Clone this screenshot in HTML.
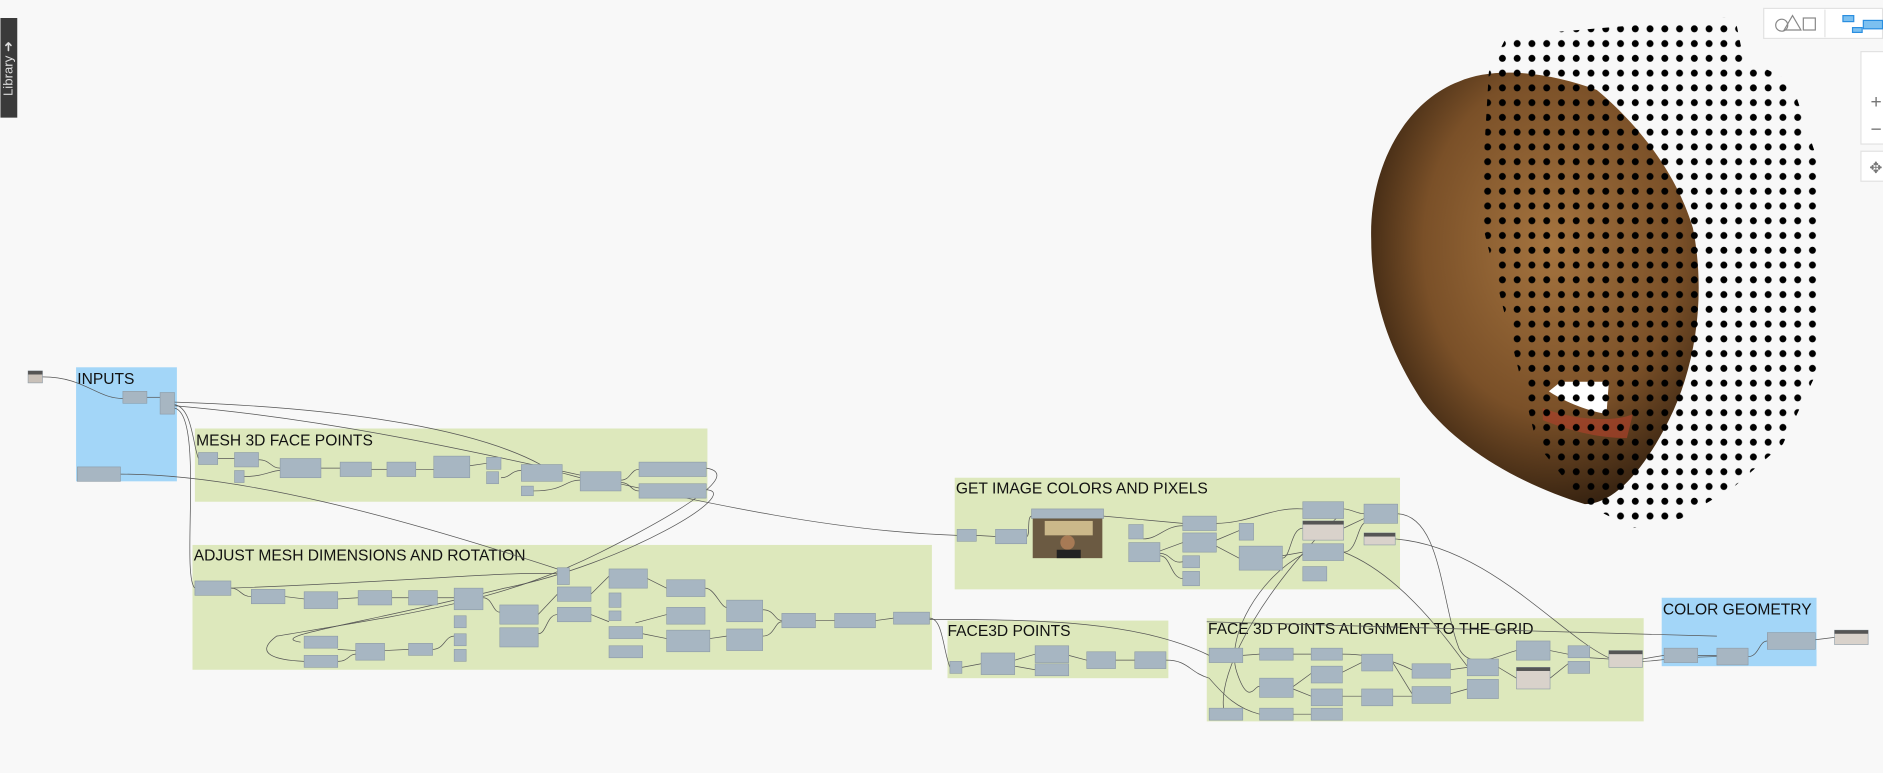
<!DOCTYPE html>
<html><head><meta charset="utf-8"><style>
html,body{margin:0;padding:0;background:#f8f8f8;width:1883px;height:773px;overflow:hidden}
svg{display:block}
.g{fill:#dde8bc}.b{fill:#a3d6f8}
.lbl{font-family:"Liberation Sans",sans-serif;font-size:13px;fill:#111}
.n{fill:#a7b6c2;stroke:#8c9aa5;stroke-width:.5}
.w{fill:none;stroke:#555;stroke-width:.6}
</style></head><body>
<svg width="1883" height="773" viewBox="0 0 1568 644" xmlns="http://www.w3.org/2000/svg">
<defs>
<pattern id="dots" x="1233" y="18" width="12.3" height="12.3" patternUnits="userSpaceOnUse"><circle cx="6" cy="6" r="2.9" fill="#000"/></pattern>
<radialGradient id="skin" cx="0.55" cy="0.4" r="0.65"><stop offset="0" stop-color="#a5743f"/><stop offset="0.6" stop-color="#7a5028"/><stop offset="1" stop-color="#2a1a0c"/></radialGradient>
</defs>
<rect width="1568" height="644" fill="#f8f8f8"/>
<!-- library tab -->
<rect x="0" y="15" width="14" height="83" fill="#3a3a3a"/>
<text transform="translate(10,80) rotate(-90)" font-family="Liberation Sans,sans-serif" font-size="11" fill="#ddd">Library ➜</text>
<!-- face -->
<path d="M1142,200 C1140,140 1170,85 1215,68 C1245,55 1290,60 1330,75 C1360,100 1395,140 1410,190 C1420,240 1415,300 1390,350 C1370,390 1345,420 1320,420 C1270,405 1215,375 1185,335 C1155,290 1142,245 1142,200Z" fill="url(#skin)"/>
<path d="M1300,318 L1340,318 L1338,345 C1320,342 1300,333 1290,326Z" fill="#fff"/>
<path d="M1285,340 C1310,350 1345,352 1360,345 L1355,365 C1330,365 1305,358 1285,350Z" fill="#a8402a" opacity=".7"/>
<path d="M1255,30 L1445,14 L1452,48 L1492,68 L1516,140 L1518,300 L1485,370 L1445,405 L1400,432 L1360,440 L1320,420 L1280,370 L1233,180 L1240,60Z" fill="url(#dots)"/>
<!-- toolbar -->
<rect x="1469" y="7" width="99" height="25" fill="#fff" stroke="#e2e2e2"/>
<line x1="1520" y1="8" x2="1520" y2="31" stroke="#e2e2e2"/>
<circle cx="1484" cy="21" r="5" fill="none" stroke="#888"/><path d="M1486,25 L1493,13 L1500,25Z" fill="none" stroke="#888"/><rect x="1502" y="15" width="10" height="10" fill="none" stroke="#888"/>
<rect x="1535" y="13" width="9" height="5" fill="#7cc0f0" stroke="#2a8ee0"/><rect x="1543" y="23" width="8" height="4" fill="#7cc0f0" stroke="#2a8ee0"/><rect x="1552" y="17" width="16" height="7" fill="#7cc0f0" stroke="#2a8ee0"/>
<rect x="1550" y="43" width="20" height="77" fill="#fff" stroke="#e2e2e2"/>
<text x="1558" y="90" font-family="Liberation Sans,sans-serif" font-size="16" fill="#777">+</text>
<text x="1558" y="113" font-family="Liberation Sans,sans-serif" font-size="16" fill="#777">−</text>
<rect x="1550" y="126" width="20" height="25" fill="#fff" stroke="#e2e2e2"/>
<text x="1557" y="144" font-family="Liberation Sans,sans-serif" font-size="13" fill="#777">✥</text>
<!-- groups -->
<rect class="b" x="63" y="306" width="84" height="95"/><text class="lbl" x="64" y="320">INPUTS</text>
<rect class="g" x="162" y="357" width="427" height="61"/><text class="lbl" x="163" y="371">MESH 3D FACE POINTS</text>
<rect class="g" x="160" y="454" width="616" height="104"/><text class="lbl" x="161" y="467">ADJUST MESH DIMENSIONS AND ROTATION</text>
<rect class="g" x="795" y="398" width="371" height="93"/><text class="lbl" x="796" y="411">GET IMAGE COLORS AND PIXELS</text>
<rect class="g" x="789" y="517" width="184" height="48"/><text class="lbl" x="789" y="530">FACE3D POINTS</text>
<rect class="g" x="1005" y="515" width="364" height="86"/><text class="lbl" x="1006" y="528">FACE 3D POINTS ALIGNMENT TO THE GRID</text>
<rect class="b" x="1384" y="498" width="129" height="57"/><text class="lbl" x="1385" y="512">COLOR GEOMETRY</text>
<!-- wires -->
<g class="w">
<path d="M35,314 C70,314 80,332 102,332"/><path d="M122,331 L133,331"/>
<path d="M145,335 C300,340 400,360 450,387"/><path d="M145,337 C160,340 160,370 165,382"/>
<path d="M145,340 C170,345 150,480 162,490"/>
<path d="M145,338 C400,360 600,440 797,446"/>
<path d="M100,395 C200,395 330,430 470,476"/>
<path d="M588,390 C620,395 560,430 500,460 C420,500 350,510 230,530 C210,545 230,550 253,551"/>
<path d="M588,408 C620,410 520,470 420,490 C300,520 220,530 250,535"/>
<path d="M181,382 L195,382"/><path d="M215,383 C225,383 225,390 233,390"/><path d="M203,397 C220,397 225,392 233,392"/>
<path d="M267,390 L283,390"/><path d="M309,391 L322,391"/><path d="M346,391 L361,391"/><path d="M391,388 L405,386"/><path d="M417,398 C425,398 425,392 434,392"/><path d="M468,394 L483,398"/><path d="M444,409 C470,409 470,400 483,400"/><path d="M517,400 C525,400 525,391 532,391"/><path d="M517,402 C525,402 525,409 532,409"/>
<path d="M192,490 C200,490 200,497 209,497"/><path d="M237,497 L253,499"/><path d="M281,499 L298,498"/><path d="M326,498 L340,498"/><path d="M364,498 L378,498"/><path d="M402,498 C410,498 410,510 416,510"/><path d="M192,490 C350,484 420,476 464,478"/>
<path d="M281,541 L296,542"/><path d="M281,551 C290,551 290,545 296,545"/><path d="M320,542 L340,541"/><path d="M360,541 C370,541 370,530 378,530"/><path d="M448,512 L464,495"/><path d="M448,528 C455,528 455,512 464,512"/><path d="M492,495 L507,480"/><path d="M492,512 L507,518"/><path d="M539,482 L555,490"/><path d="M529,519 L555,512"/><path d="M535,528 L555,532"/><path d="M587,490 C595,490 600,506 605,506"/><path d="M591,532 L605,530"/><path d="M635,508 C645,508 645,517 651,517"/><path d="M635,530 C645,530 645,518 651,518"/><path d="M679,517 L695,517"/><path d="M729,517 L744,515"/>
<path d="M774,515 C785,515 785,540 791,556"/><path d="M774,516 C870,516 950,518 1007,546"/>
<path d="M801,556 L817,553"/><path d="M845,550 L862,545"/><path d="M845,555 L862,558"/><path d="M890,546 L905,550"/><path d="M929,550 L945,550"/><path d="M971,550 C990,550 990,560 1007,565 C1020,580 1030,590 1049,595"/>
<path d="M813,446 L829,447"/><path d="M855,447 C858,447 855,430 859,430"/><path d="M919,430 L985,436"/><path d="M952,449 C965,449 970,438 985,438"/><path d="M966,459 L985,452"/><path d="M966,461 C975,461 975,470 985,468"/><path d="M966,463 C975,463 975,482 985,482"/><path d="M1013,436 C1040,436 1060,422 1085,424"/><path d="M1013,450 L1032,442"/><path d="M1013,455 L1032,465"/><path d="M1068,463 L1085,460"/><path d="M1068,465 C1075,465 1075,440 1085,440"/><path d="M1119,424 C1125,424 1130,428 1136,428"/><path d="M1119,440 L1136,432"/><path d="M1119,460 C1130,460 1130,440 1136,436"/>
<path d="M1164,428 C1200,430 1200,500 1215,540 C1225,560 1250,545 1263,542"/><path d="M1162,449 C1240,455 1300,530 1340,548"/><path d="M1119,460 C1170,480 1210,540 1222,555"/><path d="M1085,462 C1050,480 1020,530 1030,560 C1040,590 1045,570 1049,572"/><path d="M1119,426 C1060,480 1010,560 1020,595"/>
<path d="M1035,546 L1049,545"/><path d="M1077,545 L1092,545"/><path d="M1077,572 L1092,561"/><path d="M1077,574 L1092,580"/><path d="M1077,595 L1092,595"/><path d="M1118,560 L1134,552"/><path d="M1118,580 L1134,580"/><path d="M1118,545 C1150,545 1170,555 1176,558"/><path d="M1160,552 L1176,578"/><path d="M1160,580 L1176,580"/><path d="M1208,558 L1222,556"/><path d="M1208,578 L1222,574"/><path d="M1248,556 L1263,565"/><path d="M1291,542 L1306,545"/><path d="M1291,565 L1306,553"/><path d="M1324,548 L1340,549"/>
<path d="M1368,549 L1386,546"/><path d="M1368,551 C1380,551 1385,548 1430,547"/><path d="M1414,546 L1430,546"/><path d="M1456,547 C1465,547 1465,534 1472,534"/><path d="M1512,533 L1528,531"/><path d="M1005,518 L1430,530"/>
</g>
<!-- nodes -->
<g class="n">
<rect x="23" y="309" width="12" height="10" fill="#c9c1b9"/>
<rect x="102" y="326" width="20" height="10"/><rect x="133" y="327" width="12" height="18"/><rect x="64" y="389" width="36" height="12"/>
<rect x="165" y="377" width="16" height="10"/><rect x="195" y="377" width="20" height="12"/><rect x="195" y="392" width="8" height="10"/><rect x="233" y="382" width="34" height="16"/><rect x="283" y="385" width="26" height="12"/><rect x="322" y="385" width="24" height="12"/><rect x="361" y="380" width="30" height="18"/><rect x="405" y="381" width="12" height="10"/><rect x="405" y="393" width="10" height="10"/><rect x="434" y="387" width="34" height="14"/><rect x="434" y="405" width="10" height="8"/><rect x="483" y="393" width="34" height="16"/><rect x="532" y="385" width="56" height="12"/><rect x="532" y="403" width="56" height="12"/>
<rect x="162" y="484" width="30" height="12"/><rect x="209" y="491" width="28" height="12"/><rect x="253" y="493" width="28" height="14"/><rect x="298" y="492" width="28" height="12"/><rect x="340" y="492" width="24" height="12"/><rect x="378" y="490" width="24" height="18"/><rect x="378" y="513" width="10" height="10"/><rect x="378" y="528" width="10" height="10"/><rect x="378" y="541" width="10" height="10"/><rect x="253" y="530" width="28" height="10"/><rect x="253" y="546" width="28" height="10"/><rect x="296" y="536" width="24" height="14"/><rect x="340" y="536" width="20" height="10"/><rect x="416" y="504" width="32" height="16"/><rect x="416" y="523" width="32" height="16"/><rect x="464" y="473" width="10" height="14"/><rect x="464" y="489" width="28" height="12"/><rect x="464" y="506" width="28" height="12"/><rect x="507" y="474" width="32" height="16"/><rect x="507" y="494" width="10" height="12"/><rect x="507" y="509" width="10" height="8"/><rect x="507" y="522" width="28" height="10"/><rect x="507" y="538" width="28" height="10"/><rect x="555" y="483" width="32" height="14"/><rect x="555" y="506" width="32" height="14"/><rect x="555" y="525" width="36" height="18"/><rect x="605" y="500" width="30" height="18"/><rect x="605" y="524" width="30" height="18"/><rect x="651" y="511" width="28" height="12"/><rect x="695" y="511" width="34" height="12"/><rect x="744" y="510" width="30" height="10"/>
<rect x="797" y="441" width="16" height="10"/><rect x="829" y="441" width="26" height="12"/><rect x="859" y="424" width="60" height="8"/><rect x="940" y="437" width="12" height="12"/><rect x="940" y="452" width="26" height="16"/><rect x="985" y="430" width="28" height="12"/><rect x="985" y="444" width="28" height="16"/><rect x="985" y="463" width="14" height="10"/><rect x="985" y="476" width="14" height="12"/><rect x="1032" y="436" width="12" height="14"/><rect x="1032" y="455" width="36" height="20"/><rect x="1085" y="418" width="34" height="14"/><rect x="1085" y="434" width="34" height="16" fill="#d9d2cb"/><rect x="1085" y="453" width="34" height="14"/><rect x="1085" y="472" width="20" height="12"/><rect x="1136" y="420" width="28" height="16"/><rect x="1136" y="444" width="26" height="10" fill="#d9d2cb"/>
<rect x="791" y="551" width="10" height="10"/><rect x="817" y="544" width="28" height="18"/><rect x="862" y="538" width="28" height="14"/><rect x="862" y="553" width="28" height="10"/><rect x="905" y="543" width="24" height="14"/><rect x="945" y="543" width="26" height="14"/>
<rect x="1007" y="540" width="28" height="12"/><rect x="1049" y="540" width="28" height="10"/><rect x="1049" y="565" width="28" height="16"/><rect x="1007" y="590" width="28" height="10"/><rect x="1049" y="590" width="28" height="10"/><rect x="1092" y="540" width="26" height="10"/><rect x="1092" y="555" width="26" height="14"/><rect x="1092" y="574" width="26" height="14"/><rect x="1092" y="590" width="26" height="10"/><rect x="1134" y="545" width="26" height="14"/><rect x="1134" y="574" width="26" height="14"/><rect x="1176" y="553" width="32" height="12"/><rect x="1176" y="572" width="32" height="14"/><rect x="1222" y="549" width="26" height="14"/><rect x="1222" y="566" width="26" height="16"/><rect x="1263" y="534" width="28" height="16"/><rect x="1263" y="556" width="28" height="18" fill="#d9d2cb"/><rect x="1306" y="538" width="18" height="10"/><rect x="1306" y="551" width="18" height="10"/><rect x="1340" y="542" width="28" height="14" fill="#d9d2cb"/>
<rect x="1386" y="540" width="28" height="12"/><rect x="1430" y="540" width="26" height="14"/><rect x="1430" y="531" width="0" height="0"/><rect x="1472" y="527" width="40" height="14"/><rect x="1528" y="525" width="28" height="12" fill="#d9d2cb"/>
</g>
<!-- headers on key nodes -->
<g fill="#555">
<rect x="23" y="309" width="12" height="3"/><rect x="1263" y="556" width="28" height="3"/><rect x="1340" y="542" width="28" height="3"/><rect x="1085" y="434" width="34" height="3"/><rect x="1136" y="444" width="26" height="3"/><rect x="1528" y="525" width="28" height="3"/>
</g>
<!-- image thumbnail -->
<rect x="860" y="432" width="58" height="33" fill="#6b5a42"/>
<rect x="870" y="434" width="40" height="12" fill="#cbb88a"/>
<circle cx="889" cy="452" r="6" fill="#a77a55"/>
<rect x="880" y="458" width="20" height="7" fill="#222"/>
</svg>
</body></html>
